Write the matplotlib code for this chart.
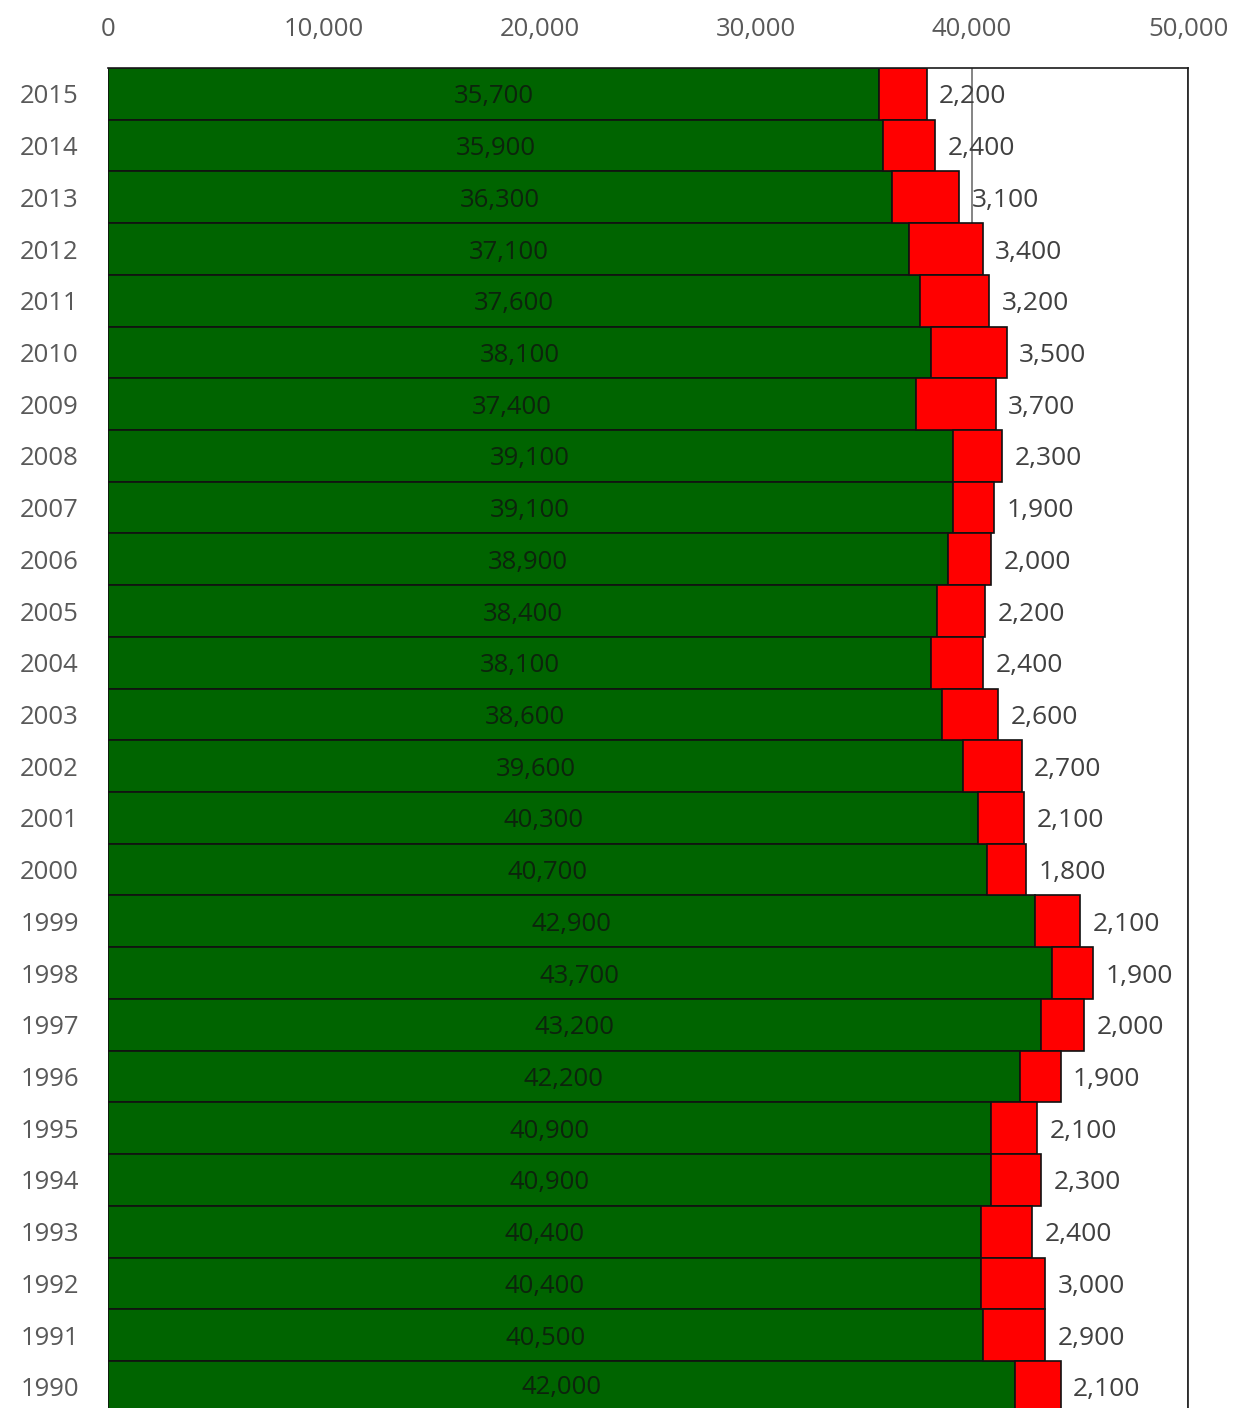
import matplotlib.pyplot as plt
import numpy as np

# data (top row first)
years = ['2015', '2014', '2013', '2012', '2011', '2010', '2009', '2008', '2007',
         '2006', '2005', '2004', '2003', '2002', '2001', '2000', '1999', '1998',
         '1997', '1996', '1995', '1994', '1993', '1992', '1991', '1990']
green_vals = [35700, 35900, 36300, 37100, 37600, 38100, 37400, 39100, 39100,
              38900, 38400, 38100, 38600, 39600, 40300, 40700, 42900, 43700,
              43200, 42200, 40900, 40900, 40400, 40400, 40500, 42000]
red_vals = [2200, 2400, 3100, 3400, 3200, 3500, 3700, 2300, 1900,
            2000, 2200, 2400, 2600, 2700, 2100, 1800, 2100, 1900,
            2000, 1900, 2100, 2300, 2400, 3000, 2900, 2100]

plt.rcParams['font.family'] = ['Open Sans', 'DejaVu Sans']

fig = plt.figure(figsize=(12.42, 14.08), dpi=100)
ax = fig.add_axes([108 / 1242, 0, 1080 / 1242, 1 - 68 / 1408])

pos = np.arange(len(years))

ax.set_axisbelow(True)
ax.grid(axis='x', color='#6f6f6f', linewidth=1.2)

g = ax.barh(pos, green_vals, height=1.0, color='#006400',
            edgecolor='#111111', linewidth=1.2)
r = ax.barh(pos, red_vals, left=green_vals, height=1.0, color='#ff0000',
            edgecolor='#111111', linewidth=1.2)

g_txt = ax.bar_label(g, labels=[f'{v:,}' for v in green_vals], label_type='center',
                     color='#0c240c', fontsize=18.5)
r_txt = ax.bar_label(r, labels=[f'{v:,}' for v in red_vals], padding=9,
                     color='#404040', fontsize=19)
# baseline-centred looks closer to the original labels
for t in list(g_txt) + list(r_txt):
    t.set_va('center_baseline')

ax.set_xlim(0, 50000)
ax.set_ylim(25.41, -0.5)

ax.xaxis.tick_top()
ax.set_xticks(np.arange(0, 50001, 10000))
ax.xaxis.set_major_formatter(lambda x, p: f'{x:,.0f}')
ax.set_yticks(pos, years)
ax.tick_params(axis='both', length=0, labelsize=18.5, labelcolor='#595959')
ax.tick_params(axis='x', pad=18.5)
ax.tick_params(axis='y', pad=21)

ax.spines['left'].set_visible(False)
ax.spines['bottom'].set_visible(False)
for s in ['top', 'right']:
    ax.spines[s].set_color('#1a1a1a')
    ax.spines[s].set_linewidth(1.2)

fig.savefig('out.png', dpi=100)
